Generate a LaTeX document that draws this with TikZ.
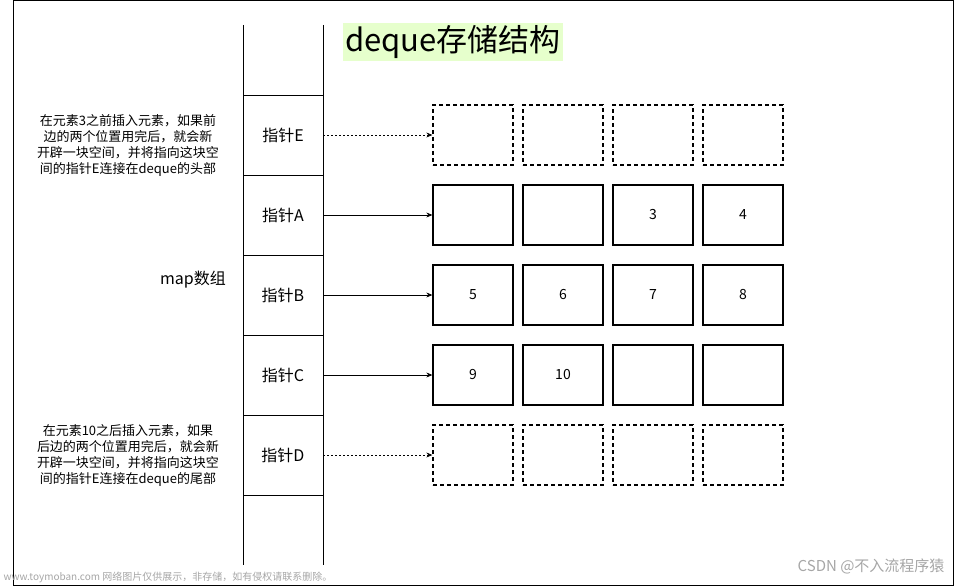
\documentclass[tikz,border=0pt]{standalone}
\usepackage{fontspec}
\setmainfont{Liberation Sans}
\newfontfamily\cjk{Noto Sans CJK SC}
\usetikzlibrary{arrows.meta}
\definecolor{tbg}{HTML}{E6FFCC}
\tikzset{
 cell/.style={draw,line width=1.3pt,minimum width=80pt,minimum height=60pt,inner sep=0pt,font=\cjk\fontsize{14}{16}\selectfont},
 dcell/.style={cell,dashed,dash pattern=on 4pt off 3pt},
 lbl/.style={font=\cjk\fontsize{16}{18}\selectfont},
 note/.style={font=\cjk\fontsize{13}{16}\selectfont,align=center},
 arr/.style={-{Stealth[length=6pt,width=5pt]},line width=0.7pt},
 darr/.style={arr,dash pattern=on 2pt off 2pt},
 wm/.style={text=gray!70,font=\cjk}
}
\begin{document}
\begin{tikzpicture}[x=1pt,y=-1pt]
\useasboundingbox (0,0) rectangle (954,586);
\draw[line width=0.8pt] (13.5,0.5) rectangle (953,585);
\draw[line width=0.8pt] (243,25) -- (243,565) (323,25) -- (323,565);
\foreach \y in {95,175,255,335,415,495} \draw[line width=0.8pt] (243,\y) -- (323,\y);
\node[fill=tbg,inner sep=2pt,font=\cjk\fontsize{31}{34}\selectfont,anchor=west] (title) at (343,42) {deque存储结构};
\node[lbl] (pE) at (283,135) {指针E};
\node[lbl] (pA) at (283,215) {指针A};
\node[lbl] (pB) at (283,295) {指针B};
\node[lbl] (pC) at (283,375) {指针C};
\node[lbl] (pD) at (283,455) {指针D};
\node[lbl] (map) at (193,280) {map数组};
\node[note] (n1) at (128,145) {在元素3之前插入元素，如果前\\边的两个位置用完后，就会新\\开辟一块空间，并将指向这块空\\间的指针E连接在deque的头部};
\node[note] (n2) at (128,455) {在元素10之后插入元素，如果\\后边的两个位置用完后，就会新\\开辟一块空间，并将指向这块空\\间的指针E连接在deque的尾部};
\foreach \i/\x in {1/473,2/563,3/653,4/743}{
 \node[dcell] (e\i) at (\x,135) {};
 \node[dcell] (d\i) at (\x,455) {};
}
\node[cell] (a1) at (473,215) {};
\node[cell] (a2) at (563,215) {};
\node[cell] (a3) at (653,215) {3};
\node[cell] (a4) at (743,215) {4};
\node[cell] (b1) at (473,295) {5};
\node[cell] (b2) at (563,295) {6};
\node[cell] (b3) at (653,295) {7};
\node[cell] (b4) at (743,295) {8};
\node[cell] (c1) at (473,375) {9};
\node[cell] (c2) at (563,375) {10};
\node[cell] (c3) at (653,375) {};
\node[cell] (c4) at (743,375) {};
\coordinate (sE) at (323,135); \coordinate (sA) at (323,215); \coordinate (sB) at (323,295);
\coordinate (sC) at (323,375); \coordinate (sD) at (323,455);
\draw[darr] (sE) -- (e1.west);
\draw[arr] (sA) -- (a1.west);
\draw[arr] (sB) -- (b1.west);
\draw[arr] (sC) -- (c1.west);
\draw[darr] (sD) -- (d1.west);
\node[wm,font=\cjk\fontsize{15}{17}\selectfont,anchor=east] (w1) at (948,566) {CSDN @不入流程序猿};
\node[wm,font=\cjk\fontsize{10}{12}\selectfont,anchor=west] (w2) at (0,577) {www.toymoban.com 网络图片仅供展示，非存储，如有侵权请联系删除。};
\end{tikzpicture}
\end{document}
